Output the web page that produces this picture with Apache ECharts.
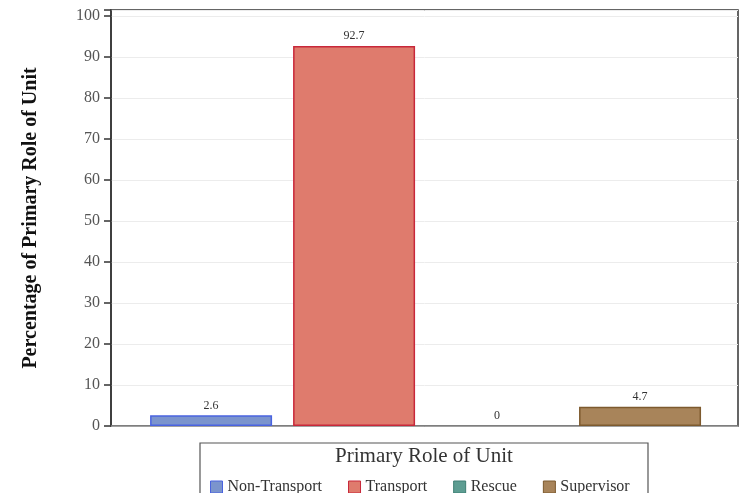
<!DOCTYPE html>
<html>
<head>
<meta charset="utf-8">
<script src="https://cdn.jsdelivr.net/npm/echarts@6/dist/echarts.min.js"></script>
<style>
  html, body { margin: 0; padding: 0; background: #fff; }
  #main { width: 741px; height: 493px; }
</style>
</head>
<body>
<div id="main"></div>
<script>
  // data
  const categories = ['Non-Transport', 'Transport', 'Rescue', 'Supervisor'];
  const percentages = [2.6, 92.7, 0, 4.7];
  const fillColors = ['#7b94cd', '#df7b6d', '#5d9d92', '#a8845a'];
  const edgeColors = ['#4a63e0', '#c8283a', '#3f7f74', '#7d5a2e'];
  const yTicks = [0, 10, 20, 30, 40, 50, 60, 70, 80, 90, 100];

  const serif = '"Liberation Serif", "DejaVu Serif", serif';

  const series = categories.map((name, i) => ({
    name: name,
    type: 'bar',
    barWidth: 122,
    barGap: '-100%',
    data: [[i, percentages[i]]],
    itemStyle: {
      color: fillColors[i],
      borderColor: edgeColors[i],
      borderWidth: percentages[i] > 0 ? 1.5 : 0
    },
    label: {
      show: true,
      position: 'top',
      distance: 4,
      color: '#333',
      fontFamily: serif,
      fontSize: 12,
      formatter: p => String(p.value[1])
    }
  }));

  const option = {
    animation: false,
    grid: {
      left: 111, right: 3, top: 10, bottom: 67,
      show: true,
      borderColor: '#333',
      borderWidth: 1.5
    },
    xAxis: {
      type: 'value',
      min: -0.70,
      max: 3.685,
      axisLine: { show: true, lineStyle: { color: '#888', width: 1.5 } },
      axisTick: { show: false },
      axisLabel: { show: false },
      splitLine: { show: false }
    },
    yAxis: {
      type: 'value',
      min: 0,
      max: 101.5,
      interval: 10,
      name: 'Percentage of Primary Role of Unit',
      nameLocation: 'middle',
      nameGap: 70,
      nameTextStyle: {
        fontFamily: serif,
        fontWeight: 'bold',
        fontSize: 20,
        color: '#111'
      },
      axisLine: { show: true, onZero: false, lineStyle: { color: '#333', width: 1.5 } },
      axisTick: { show: true, length: 7, lineStyle: { color: '#333', width: 1.5 } },
      axisLabel: {
        color: '#555',
        fontFamily: serif,
        fontSize: 16,
        margin: 11,
        formatter: v => (yTicks.indexOf(v) >= 0 ? String(v) : '')
      },
      splitLine: { show: true, lineStyle: { color: '#ececec', width: 1 } }
    },
    legend: {
      left: 205,
      top: 474,
      itemWidth: 12,
      itemHeight: 12,
      itemGap: 26,
      icon: 'rect',
      textStyle: {
        fontFamily: serif,
        fontSize: 16,
        color: '#333'
      },
      data: categories.map((name, i) => ({
        name: name,
        itemStyle: { color: fillColors[i], borderColor: edgeColors[i], borderWidth: 1 }
      }))
    },
    graphic: [
      {
        type: 'rect',
        shape: { x: 200, y: 443, width: 448, height: 60 },
        style: { fill: 'none', stroke: '#555', lineWidth: 1.2 }
      },
      {
        type: 'text',
        x: 424,
        y: 446,
        style: {
          text: 'Primary Role of Unit',
          fontFamily: serif,
          fontSize: 21,
          fill: '#333',
          textAlign: 'center'
        }
      }
    ],
    series: series
  };

  const myChart = echarts.init(document.getElementById('main'));
  myChart.setOption(option);
</script>
</body>
</html>
